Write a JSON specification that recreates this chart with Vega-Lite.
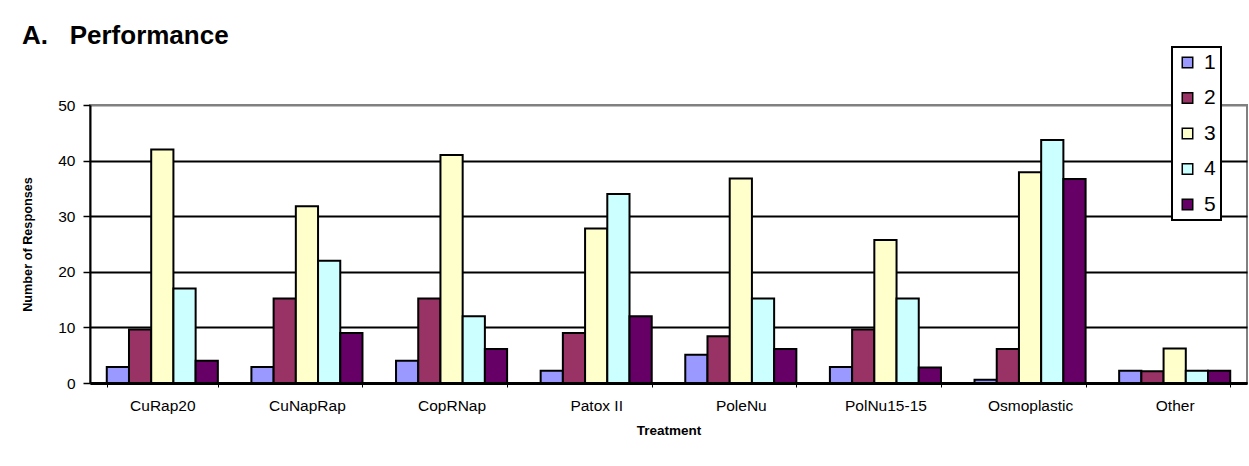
{
  "$schema": "https://vega.github.io/schema/vega-lite/v6.json",
  "width": 1157,
  "height": 278,
  "autosize": {"type": "none"},
  "padding": {"left": 90, "top": 105, "right": 2, "bottom": 83},
  "background": "white",
  "title": {
    "text": "A.\u00a0\u00a0\u00a0Performance",
    "anchor": "start",
    "frame": "group",
    "dx": -68,
    "offset": -24,
    "baseline": "alphabetic",
    "font": "Liberation Sans",
    "fontSize": 26,
    "fontWeight": "bold",
    "color": "black"
  },
  "data": {
    "values": [
      {"Treatment": "CuRap20", "Rating": "1", "Count": 2.9},
      {"Treatment": "CuRap20", "Rating": "2", "Count": 9.6},
      {"Treatment": "CuRap20", "Rating": "3", "Count": 42},
      {"Treatment": "CuRap20", "Rating": "4", "Count": 17},
      {"Treatment": "CuRap20", "Rating": "5", "Count": 4},
      {"Treatment": "CuNapRap", "Rating": "1", "Count": 2.9},
      {"Treatment": "CuNapRap", "Rating": "2", "Count": 15.2},
      {"Treatment": "CuNapRap", "Rating": "3", "Count": 31.8},
      {"Treatment": "CuNapRap", "Rating": "4", "Count": 22},
      {"Treatment": "CuNapRap", "Rating": "5", "Count": 9},
      {"Treatment": "CopRNap", "Rating": "1", "Count": 4},
      {"Treatment": "CopRNap", "Rating": "2", "Count": 15.2},
      {"Treatment": "CopRNap", "Rating": "3", "Count": 41},
      {"Treatment": "CopRNap", "Rating": "4", "Count": 12},
      {"Treatment": "CopRNap", "Rating": "5", "Count": 6.1},
      {"Treatment": "Patox II", "Rating": "1", "Count": 2.2},
      {"Treatment": "Patox II", "Rating": "2", "Count": 9},
      {"Treatment": "Patox II", "Rating": "3", "Count": 27.8},
      {"Treatment": "Patox II", "Rating": "4", "Count": 34},
      {"Treatment": "Patox II", "Rating": "5", "Count": 12},
      {"Treatment": "PoleNu", "Rating": "1", "Count": 5.1},
      {"Treatment": "PoleNu", "Rating": "2", "Count": 8.4},
      {"Treatment": "PoleNu", "Rating": "3", "Count": 36.8},
      {"Treatment": "PoleNu", "Rating": "4", "Count": 15.2},
      {"Treatment": "PoleNu", "Rating": "5", "Count": 6.1},
      {"Treatment": "PolNu15-15", "Rating": "1", "Count": 2.9},
      {"Treatment": "PolNu15-15", "Rating": "2", "Count": 9.6},
      {"Treatment": "PolNu15-15", "Rating": "3", "Count": 25.7},
      {"Treatment": "PolNu15-15", "Rating": "4", "Count": 15.2},
      {"Treatment": "PolNu15-15", "Rating": "5", "Count": 2.8},
      {"Treatment": "Osmoplastic", "Rating": "1", "Count": 0.6},
      {"Treatment": "Osmoplastic", "Rating": "2", "Count": 6.1},
      {"Treatment": "Osmoplastic", "Rating": "3", "Count": 37.9},
      {"Treatment": "Osmoplastic", "Rating": "4", "Count": 43.7},
      {"Treatment": "Osmoplastic", "Rating": "5", "Count": 36.7},
      {"Treatment": "Other", "Rating": "1", "Count": 2.2},
      {"Treatment": "Other", "Rating": "2", "Count": 2.1},
      {"Treatment": "Other", "Rating": "3", "Count": 6.2},
      {"Treatment": "Other", "Rating": "4", "Count": 2.2},
      {"Treatment": "Other", "Rating": "5", "Count": 2.2}
    ]
  },
  "mark": {"type": "bar", "stroke": "black", "strokeWidth": 2},
  "encoding": {
    "x": {
      "field": "Treatment",
      "type": "nominal",
      "sort": ["CuRap20", "CuNapRap", "CopRNap", "Patox II", "PoleNu", "PolNu15-15", "Osmoplastic", "Other"],
      "scale": {"paddingInner": 0.232, "paddingOuter": 0.116},
      "axis": {
        "title": "Treatment",
        "titleFont": "Liberation Sans",
        "titleFontSize": 13.5,
        "titleFontWeight": "bold",
        "titleColor": "black",
        "titleY": 47,
        "titleBaseline": "middle",
        "labelAngle": 0,
        "labelFont": "Liberation Sans",
        "labelFontSize": 15.5,
        "labelColor": "black",
        "labelPadding": 11,
        "tickBand": "extent",
        "tickSize": 4,
        "tickColor": "black",
        "domainColor": "black",
        "domainWidth": 3,
        "grid": false
      }
    },
    "xOffset": {
      "field": "Rating",
      "type": "nominal",
      "scale": {"paddingInner": 0, "paddingOuter": 0}
    },
    "y": {
      "field": "Count",
      "type": "quantitative",
      "scale": {"domain": [0, 50], "nice": false},
      "axis": {
        "title": "Number of Responses",
        "titleFont": "Liberation Sans",
        "titleFontSize": 12.7,
        "titleFontWeight": "bold",
        "titleColor": "black",
        "titleX": -63,
        "titleY": 139,
        "titleBaseline": "middle",
        "values": [0, 10, 20, 30, 40, 50],
        "labelFont": "Liberation Sans",
        "labelFontSize": 15.5,
        "labelColor": "black",
        "labelPadding": 8,
        "tickSize": 7,
        "tickColor": "black",
        "tickWidth": 1.5,
        "domainColor": "black",
        "domainWidth": 2,
        "grid": true,
        "gridColor": {"condition": {"test": "datum.value === 50", "value": "#808080"}, "value": "black"},
        "gridWidth": 2
      }
    },
    "color": {
      "field": "Rating",
      "type": "nominal",
      "scale": {
        "domain": ["1", "2", "3", "4", "5"],
        "range": ["#9999FF", "#993366", "#FFFFCC", "#CCFFFF", "#660066"]
      },
      "legend": {
        "orient": "none",
        "legendX": 1082,
        "legendY": -58,
        "title": null,
        "direction": "vertical",
        "symbolType": "square",
        "symbolSize": 110,
        "symbolStrokeColor": "black",
        "symbolStrokeWidth": 1.5,
        "symbolOpacity": 1,
        "labelFont": "Liberation Sans",
        "labelFontSize": 21,
        "labelColor": "black",
        "labelOffset": 6,
        "rowPadding": 13.5,
        "padding": 5,
        "strokeColor": "black",
        "fillColor": "white"
      }
    }
  },
  "config": {
    "view": {"stroke": "#808080", "strokeWidth": 2},
    "font": "Liberation Sans",
    "legend": {"strokeWidth": 2}
  }
}
